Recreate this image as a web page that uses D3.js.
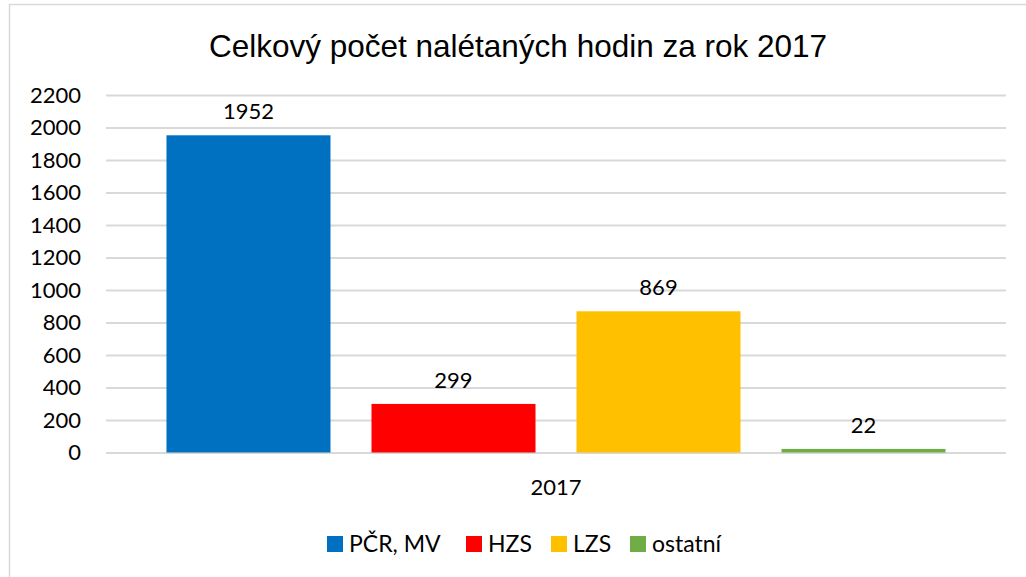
<!DOCTYPE html>
<html>
<head>
<meta charset="utf-8">
<script src="https://cdn.jsdelivr.net/npm/d3@7"></script>
<style>
  body { margin: 0; background: #fff; }
  svg { display: block; }
</style>
</head>
<body>
<svg width="1026" height="577"></svg>
<script>
// Chart data
const categories = ["PČR, MV", "HZS", "LZS", "ostatní"];
const hours = [1952, 299, 869, 22];
const colors = ["#0070C0", "#FF0000", "#FFC000", "#70AD47"];
const yTicks = [0, 200, 400, 600, 800, 1000, 1200, 1400, 1600, 1800, 2000, 2200];
const groupLabel = "2017";
const title = "Celkový počet nalétaných hodin za rok 2017";

const svg = d3.select("svg");
const labelFont = "Lato, 'Open Sans', sans-serif";

// chart border
svg.append("rect")
  .attr("x", 9.5).attr("y", 4.5)
  .attr("width", 1030).attr("height", 600)
  .attr("fill", "none")
  .attr("stroke", "#D9D9D9")
  .attr("stroke-width", 1.5);

// Scales
const x = d3.scaleBand()
  .domain(categories)
  .range([106, 1006])
  .paddingInner(0.2)
  .paddingOuter(0.295);

const y = d3.scaleLinear()
  .domain([0, 2200])
  .range([452.5, 95]);

// Title
svg.append("text")
  .attr("x", 518)
  .attr("y", 57)
  .attr("text-anchor", "middle")
  .attr("font-family", "Liberation Sans, Arial, sans-serif")
  .attr("font-size", 31.5)
  .attr("fill", "#000")
  .text(title);

// Gridlines + y labels via axis
const yAxis = svg.append("g")
  .attr("transform", "translate(106,0)")
  .call(d3.axisLeft(y).tickValues(yTicks).tickFormat(d3.format("d")).tickSize(-900).tickPadding(25));

yAxis.select(".domain").remove();
yAxis.selectAll(".tick line")
  .attr("stroke", "#D9D9D9")
  .attr("stroke-width", 2);
yAxis.selectAll(".tick text")
  .attr("font-family", labelFont)
  .attr("font-size", 22)
  .attr("fill", "#000");

// Bars
svg.selectAll(".bar")
  .data(hours)
  .join("rect")
  .attr("class", "bar")
  .attr("x", (d, i) => x(categories[i]))
  .attr("y", d => y(d))
  .attr("width", x.bandwidth())
  .attr("height", d => y(0) - y(d))
  .attr("fill", (d, i) => colors[i]);

// Value labels
svg.selectAll(".val")
  .data(hours)
  .join("text")
  .attr("class", "val")
  .attr("x", (d, i) => x(categories[i]) + x.bandwidth() / 2)
  .attr("y", d => y(d) - 16)
  .attr("text-anchor", "middle")
  .attr("font-family", labelFont)
  .attr("font-size", 22)
  .attr("fill", "#000")
  .text(d => d);

// Category label under the axis
svg.append("text")
  .attr("x", 556)
  .attr("y", 495)
  .attr("text-anchor", "middle")
  .attr("font-family", labelFont)
  .attr("font-size", 22)
  .attr("fill", "#000")
  .text(groupLabel);

// Legend
const legendX = [327, 466, 551, 630];
const legend = svg.append("g");
categories.forEach((c, i) => {
  const item = legend.append("g").attr("transform", `translate(${legendX[i]},536)`);
  item.append("rect")
    .attr("width", 16).attr("height", 16)
    .attr("fill", colors[i]);
  item.append("text")
    .attr("x", 22)
    .attr("y", 16)
    .attr("font-family", labelFont)
    .attr("font-size", 23)
    .attr("fill", "#000")
    .text(c);
});
</script>
</body>
</html>
